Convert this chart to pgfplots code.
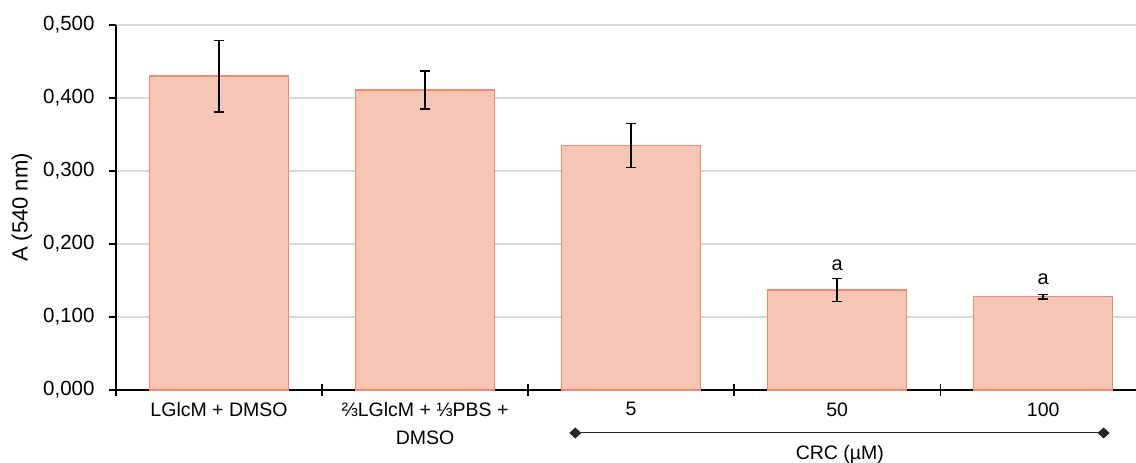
\documentclass[border=0pt]{standalone}
\usepackage{fontspec}
\setmainfont{Liberation Sans}
\usepackage{pgfplots}
\usepackage{pgfplotstable}
\pgfplotsset{compat=1.18}
\usetikzlibrary{arrows.meta}
\definecolor{barfill}{HTML}{F5C5B6}
\definecolor{barline}{HTML}{EE8B70}
\definecolor{gridc}{HTML}{D9D9D9}
\pgfplotstableread{
x y e
0 0.430 0.049
1 0.411 0.026
2 0.335 0.030
3 0.137 0.016
4 0.128 0.003
}\datatable
\begin{document}
\begin{tikzpicture}[x=1pt,y=1pt]
\begin{axis}[
  at={(116pt,73pt)}, anchor=south west,
  scale only axis, width=1020pt, height=365pt,
  xmin=-0.5, xmax=4.45, ymin=0, ymax=0.5,
  axis x line*=bottom, axis y line*=left,
  axis line style={-, black, line width=1.4pt},
  clip=false,
  ytick={0,0.1,0.2,0.3,0.4,0.5},
  ymajorgrids, grid style={gridc, line width=1.2pt},
  yticklabel style={font=\fontsize{20.5}{22}\selectfont, xshift=-11pt,
    /pgf/number format/fixed, /pgf/number format/fixed zerofill,
    /pgf/number format/precision=3, /pgf/number format/use comma,
    /pgf/number format/assume math mode=true},
  y tick style={black, line width=1.4pt},
  tick align=outside, major tick length=7pt,
  xtick={0,1,2,3,4},
  xticklabels={LGlcM + DMSO, ⅔LGlcM + ⅓PBS +\\DMSO, 5, 50, 100},
  xticklabel style={font=\fontsize{19.5}{28}\selectfont, align=center, yshift=-2pt},
  x tick style={draw=none},
  extra x ticks={-0.5,0.5,1.5,2.5,3.5},
  extra x tick labels={},
  extra x tick style={tick align=center, major tick length=12pt, x tick style={draw=black, line width=1.4pt}},
  ylabel={A (540 nm)},
  ylabel style={font=\fontsize{22}{24}\selectfont, at={(axis description cs:-0.0922,0.5)}, anchor=center},
]
\addplot[ybar, bar width=0.675, fill=barfill, draw=barline, line width=1.4pt,
  error bars/.cd, y dir=both, y explicit,
  error bar style={black, line width=1.6pt},
  error mark options={rotate=90, mark size=5pt, black, line width=1.6pt}]
  table[x=x, y=y, y error=e] {\datatable};
\node[font=\fontsize{20}{22}\selectfont] at (axis cs:3,0.171) {a};
\node[font=\fontsize{20}{22}\selectfont] at (axis cs:4,0.152) {a};
\draw[black!85, line width=1pt, {Diamond[length=12pt,width=11pt]}-{Diamond[length=12pt,width=11pt]}]
  (axis cs:1.7,-0.0589) -- (axis cs:4.322,-0.0589);
\node[font=\fontsize{19.5}{22}\selectfont] at (axis cs:3.013,-0.0885) {CRC (µM)};
\end{axis}
\pgfresetboundingbox
\useasboundingbox (0,0) rectangle (1136,463);
\end{tikzpicture}
\end{document}
